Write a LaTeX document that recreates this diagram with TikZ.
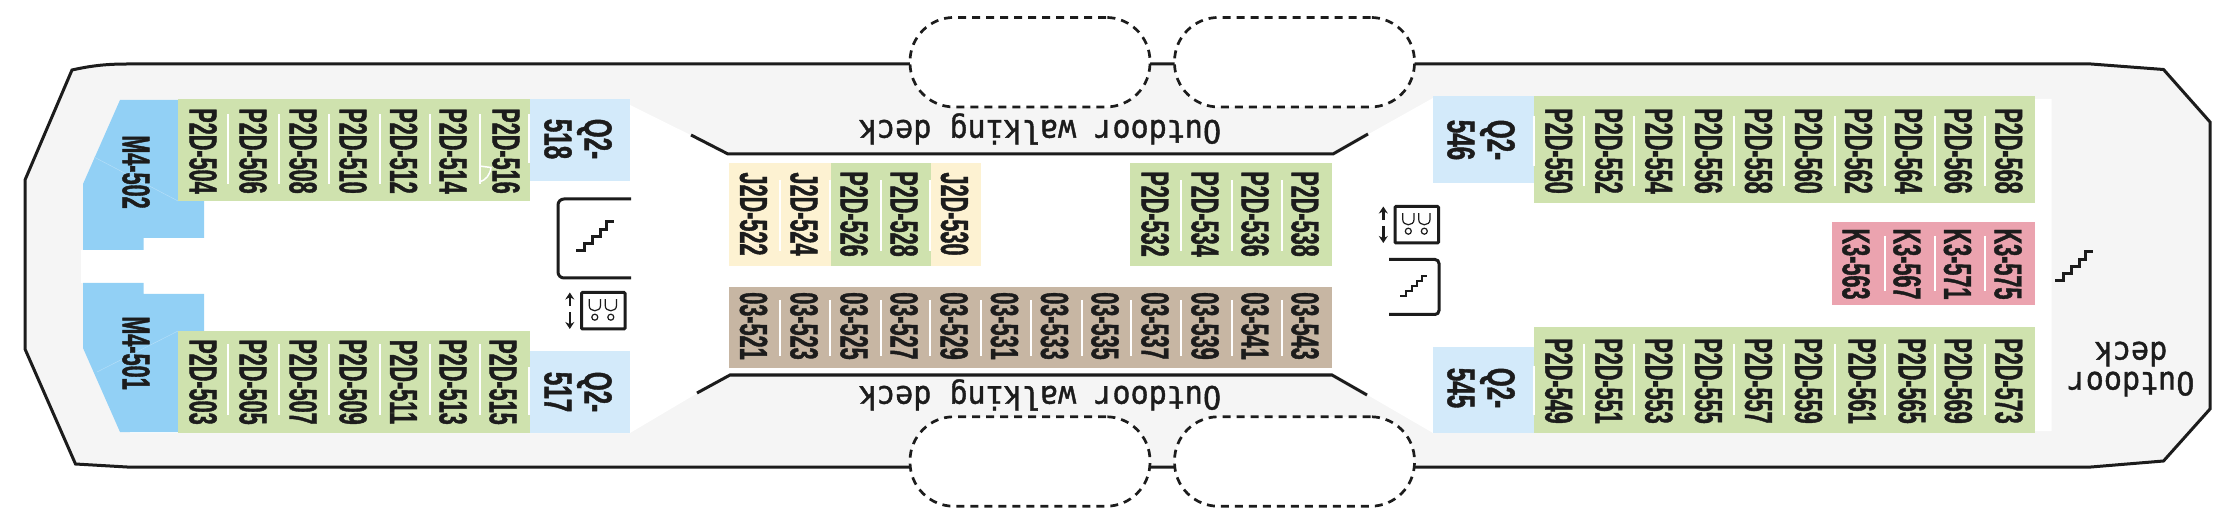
\documentclass[tikz,border=0pt]{standalone}
\usepackage{fontspec}
\newfontfamily\cabinfont[FakeStretch=0.555,FakeBold=1]{Liberation Sans}
\newfontfamily\suitefont[FakeStretch=0.62,FakeBold=1]{Liberation Sans}
\newfontfamily\deckfont[FakeStretch=0.94,FakeBold=1.2]{DejaVu Sans Mono}
\usetikzlibrary{%
    arrows.meta,
}
\definecolor{deckblack}{HTML}{1c1c1c}
\definecolor{deckgray}{HTML}{f5f5f5}
\definecolor{cabingreen}{HTML}{cfe2ae}
\definecolor{cabinblue}{HTML}{d3eafa}
\definecolor{cabinsky}{HTML}{92d0f5}
\definecolor{cabinyellow}{HTML}{fdf2d2}
\definecolor{cabinbrown}{HTML}{c7b6a3}
\definecolor{cabinpink}{HTML}{eba3af}
\tikzset{%
    x=1pt,
    y=-1pt,
    hull/.style = {
        draw=deckblack,
        line width=3pt,
        fill=deckgray,
    },
    deckline/.style = {
        draw=deckblack,
        line width=3pt,
    },
    divider/.style = {
        draw=white,
        line width=2pt,
    },
    cabin/.style = {
        rotate=-90,
        inner sep=0pt,
        text=deckblack,
        align=center,
        font=\cabinfont\bfseries\fontsize{39}{40}\selectfont,
    },
    suite/.style = {
        cabin,
        font=\suitefont\bfseries\fontsize{39}{40}\selectfont,
    },
    decklabel/.style = {
        rotate=180,
        inner sep=0pt,
        text=deckblack,
        align=center,
        font=\deckfont\fontsize{32}{30}\selectfont,
    },
    tender/.style = {
        draw=deckblack,
        line width=2.7pt,
        dash pattern=on 8pt off 6pt,
        fill=white,
        rounded corners=44pt,
        minimum width=240pt,
        minimum height=89.5pt,
        inner sep=0pt,
    },
    stairs/.pic = {
        \draw[draw=deckblack] (0,0) -- (8,0) -- (8,-7) -- (16,-7) -- (16,-14)
            -- (24,-14) -- (24,-21) -- (30,-21) -- (30,-29) -- (38,-29);
    },
    lift/.pic = {
        \draw[draw=deckblack, line width=3pt, rounded corners=1pt] (0,0) rectangle (43.5,36.5);
        \draw[draw=deckblack, line width=1.2pt] (7.7,6.7) -- (7.7,13) .. controls (7.7,20) and (19,20) .. (19,13) -- (19,6.7);
        \draw[draw=deckblack, line width=1.2pt] (23.7,6.7) -- (23.7,13) .. controls (23.7,20) and (35,20) .. (35,13) -- (35,6.7);
        \draw[draw=deckblack, line width=1.2pt] (13.3,24.7) circle (3) (29.3,24.7) circle (3);
        \draw[draw=deckblack, line width=2.5pt, -{Stealth[length=7pt,width=9pt]}] (-11.7,13.7) -- (-11.7,0);
        \draw[draw=deckblack, line width=2.5pt, -{Stealth[length=7pt,width=9pt]}] (-11.7,19.7) -- (-11.7,36.5);
    },
}

\begin{document}
\begin{tikzpicture}
    \useasboundingbox (0,0) rectangle (2224,518);
    \path[hull] (127,64) -- (2091,64) -- (2163.5,69.5) -- (2210,122) -- (2210,409) -- (2163.5,461) -- (2091,467)
        -- (127,467) -- (75.5,464) -- (25,349) -- (25,180) -- (72,70) .. controls (90,66) and (105,64) .. cycle;
    \fill[white] (130,100) -- (630,100) -- (630,105) -- (729,154) -- (1333,154) -- (1433,98) -- (2051.5,99)
        -- (2051.5,431) -- (1433,433) -- (1333,375) -- (728,375) -- (630,433) -- (130,433)
        -- (130,283) -- (81,283) -- (81,250) -- (130,250) -- cycle;

    \fill[cabinsky] (120,100) -- (178,100) -- (178,201) -- (204,201) -- (204,238) -- (143.5,238)
        -- (143.5,250) -- (83,250) -- (83,184) -- cycle;
    \fill[cabinsky] (83,283) -- (143.5,283) -- (143.5,294) -- (204,294) -- (204,331) -- (178,331)
        -- (178,432) -- (120,432) -- (83,348) -- cycle;
    \draw[cabinsky!70!white, line width=0.5pt] (94,157) -- (178,201) (97,372) -- (178,331);
    \fill[cabingreen] (178,99) rectangle (530,201);
    \fill[cabingreen] (178,331) rectangle (530,433);
    \fill[cabinblue] (530,99) rectangle (630,181);
    \fill[cabinblue] (530,351) rectangle (630,433);
    \fill[cabinyellow] (729,163) rectangle (981,266);
    \fill[cabingreen] (831,163) rectangle (931,266);
    \fill[cabingreen] (1130,163) rectangle (1332,266);
    \fill[cabinbrown] (729,287) rectangle (1332,368);
    \fill[cabinblue] (1433,96) rectangle (1533.5,183);
    \fill[cabinblue] (1433,347) rectangle (1533.5,433);
    \fill[cabingreen] (1533.5,96) rectangle (2035,203);
    \fill[cabingreen] (1533.5,327) rectangle (2035,433);
    \fill[cabinpink] (1832,222) rectangle (2035,305);

    \foreach \x in {228,278.5,329,379.5,429.5,479.5} {
        \draw[divider] (\x,114) -- (\x,184);
        \draw[divider] (\x,344) -- (\x,415);
    }
    \draw[divider] (529,114) -- (529,163) (529,367) -- (529,415);
    \draw[divider, line width=1.5pt] (479.5,166) -- (491,167.5) .. controls (490,175) and (486,180) .. (479.5,182);
    \foreach \x in {779.5,830,880.5,930,1180.5,1231.5,1281.5}
        \draw[divider] (\x,180) -- (\x,251);
    \foreach \x in {779.5,830,880.5,930,981,1031,1081.5,1131,1180.5,1231.5,1281.5}
        \draw[divider] (\x,300) -- (\x,356);
    \foreach \x in {1583.5,1633.5,1684,1734,1784,1834.5,1884.5,1934.5,1984.5} {
        \draw[divider] (\x,116) -- (\x,186.5);
        \draw[divider] (\x,344) -- (\x,415);
    }
    \draw[divider] (1534,116) -- (1534,166) (1534,366) -- (1534,415);
    \foreach \x in {1884.5,1934.5,1984.5}
        \draw[divider] (\x,236) -- (\x,291);

    \node [cabin] (m502) at (136,172) {M4-502};
    \node [cabin] (m501) at (136,353) {M4-501};
    \foreach \x/\n in {203/504,253/506,303/508,353/510,403.5/512,453/514,506/516}
        \node [cabin] (p\n) at (\x,151) {P2D-\n};
    \foreach \x/\n in {203/503,253/505,303/507,353/509,403.5/511,453/513,503/515}
        \node [cabin] (p\n) at (\x,382) {P2D-\n};
    \node [suite] (q518) at (578,139) {Q2-\\518};
    \node [suite] (q517) at (578,392) {Q2-\\517};
    \foreach \x/\n in {753.5/522,804/524,954.5/530}
        \node [cabin] (j\n) at (\x,214) {J2D-\n};
    \foreach \x/\n in {854/526,904/528,1155/532,1205/534,1255/536,1305/538}
        \node [cabin] (p\n) at (\x,214) {P2D-\n};
    \foreach \x/\n in {753.5/521,804/523,854/525,904/527,954/529,1004.5/531,1054.5/533,1105/535,1155/537,1205/539,1255/541,1305/543}
        \node [cabin] (o\n) at (\x,326) {03-\n};
    \node [suite] (q546) at (1481,140) {Q2-\\546};
    \node [suite] (q545) at (1481,388) {Q2-\\545};
    \foreach \x/\n in {1558.8/550,1608.8/552,1658.8/554,1708.5/556,1758.5/558,1808.5/560,1858.5/562,1908.5/564,1958.3/566,2008.8/568}
        \node [cabin] (p\n) at (\x,151) {P2D-\n};
    \foreach \x/\n in {1558.8/549,1608.8/551,1658.8/553,1708.5/555,1758.5/557,1808.5/559,1862/561,1912/565,1958.3/569,2008.8/573}
        \node [cabin] (p\n) at (\x,381) {P2D-\n};
    \foreach \x/\n in {1856/563,1907/567,1957.5/571,2008/575}
        \node [cabin] (k\n) at (\x,264) {K3-\n};

    \draw[deckline] (691,135) -- (728,154) -- (1333,154) -- (1368,134);
    \draw[deckline] (697,393) -- (730,375) -- (1332,375) -- (1367,395);
    \node [decklabel] (walktop) at (1040,129) {Outdoor walking deck};
    \node [decklabel] (walkbottom) at (1040,395) {Outdoor walking deck};
    \node [decklabel] (outdoor) at (2131,369) {Outdoor\\deck};

    \draw[deckline, rounded corners=6pt] (631,199) -- (558,199) -- (558,278) -- (631,278);
    \draw[deckline, rounded corners=4pt] (1389,259.5) -- (1439,259.5) -- (1439,314.5) -- (1389,314.5);
    \pic[line width=3pt] at (576,251) {stairs};
    \pic[line width=2pt, scale=0.72] at (1400,296.5) {stairs};
    \pic[line width=3pt] at (2055,281) {stairs};
    \pic at (581.5,292.5) {lift};
    \pic at (1395,206.5) {lift};

    \node [tender] (tendera) at (1030,62.2) {};
    \node [tender] (tenderb) at (1294.5,62.2) {};
    \node [tender] (tenderc) at (1030,461.5) {};
    \node [tender] (tenderd) at (1294.5,461.5) {};
\end{tikzpicture}
\end{document}
